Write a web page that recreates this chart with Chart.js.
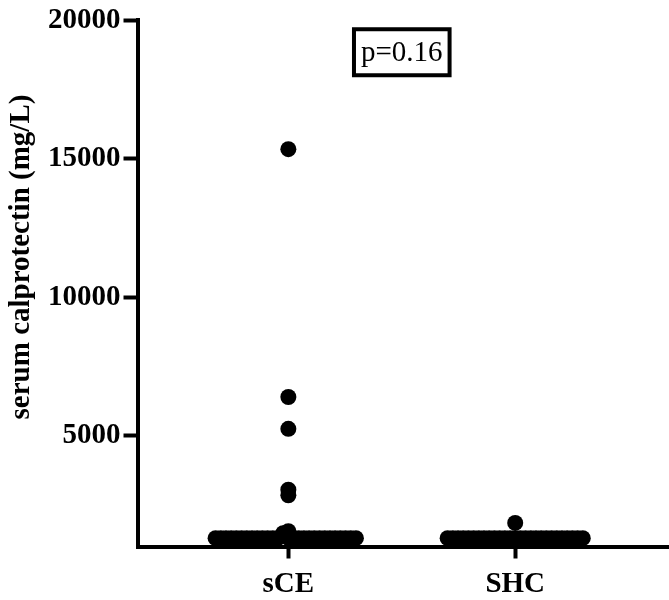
<!DOCTYPE html>
<html>
<head>
<meta charset="utf-8">
<script src="https://cdn.jsdelivr.net/npm/chart.js@4.4.1/dist/chart.umd.min.js"></script>
<style>
  html, body { margin: 0; padding: 0; background: #fff; }
  #wrap { width: 669px; height: 600px; }
</style>
</head>
<body>
<div id="wrap"><canvas id="calChart"></canvas></div>
<script>
const groups = ['sCE', 'SHC'];
const yTicks = [5000, 10000, 15000, 20000];
const pLabel = 'p=0.16';

// serum calprotectin values per subject (mg/L)
const sceValues = [15350, 6400, 5250, 3050, 2850, 1550, 1480,
    1300, 1300, 1300, 1300, 1300, 1300, 1300, 1300, 1300, 1300,
    1300, 1300, 1300, 1300, 1300, 1300, 1300, 1300, 1300, 1300,
    1300, 1300, 1300, 1300, 1300, 1300, 1300];
const shcValues = [1850,
    1300, 1300, 1300, 1300, 1300, 1300, 1300, 1300, 1300, 1300,
    1300, 1300, 1300, 1300, 1300, 1300, 1300, 1300, 1300, 1300,
    1300, 1300, 1300, 1300, 1300, 1300, 1300];

const font = 'Liberation Serif';

// simple bee swarm: spread overlapping dots sideways around the group position
function swarm(values, center) {
    const pxX = 227, pxY = 27.93 / 1000, step = 5.2;
    const placed = [];
    values.slice().sort((a, b) => b - a).forEach(v => {
        for (let k = 0; k < 200; k++) {
            const off = (k % 2 === 0 ? 1 : -1) * Math.ceil(k / 2) * step;
            const clash = placed.some(p =>
                Math.hypot(p.dx - off, (p.y - v) * pxY) < step - 0.01);
            if (!clash) {
                placed.push({dx: off, y: v});
                break;
            }
        }
    });
    return placed.map(p => ({x: center + p.dx / pxX, y: p.y}));
}

const yTitlePlugin = {
    id: 'yTitle',
    afterDraw(chart) {
        const ctx = chart.ctx;
        ctx.save();
        ctx.translate(21.5, 257);
        ctx.rotate(-Math.PI / 2);
        ctx.font = 'bold 29px "' + font + '"';
        ctx.fillStyle = '#000';
        ctx.textAlign = 'center';
        ctx.textBaseline = 'middle';
        ctx.fillText('serum calprotectin (mg/L)', 0, 0);
        ctx.restore();
    }
};

const pBoxPlugin = {
    id: 'pBox',
    afterDraw(chart) {
        const ctx = chart.ctx;
        const cx = chart.scales.x.getPixelForValue(0.5);
        const cy = chart.scales.y.getPixelForValue(18850);
        ctx.save();
        ctx.font = '29px "' + font + '"';
        const w = ctx.measureText(pLabel).width + 14;
        const h = 46;
        ctx.lineWidth = 4;
        ctx.strokeStyle = '#000';
        ctx.strokeRect(cx - w / 2, cy - h / 2, w, h);
        ctx.fillStyle = '#000';
        ctx.textAlign = 'center';
        ctx.textBaseline = 'middle';
        ctx.fillText(pLabel, cx, cy + 1);
        ctx.restore();
    }
};

const ctx = document.getElementById('calChart').getContext('2d');
const calChart = new Chart(ctx, {
    type: 'scatter',
    data: {
        datasets: [{
            label: groups[0],
            data: swarm(sceValues, 0),
            backgroundColor: '#000',
            borderWidth: 0,
            pointRadius: 8,
            pointHoverRadius: 8
        }, {
            label: groups[1],
            data: swarm(shcValues, 1),
            backgroundColor: '#000',
            borderWidth: 0,
            pointRadius: 8,
            pointHoverRadius: 8
        }]
    },
    options: {
        responsive: true,
        maintainAspectRatio: false,
        animation: false,
        clip: false,
        layout: { autoPadding: false, padding: { top: 13, right: 0, left: 0, bottom: 0 } },
        plugins: {
            legend: { display: false },
            tooltip: { enabled: false }
        },
        scales: {
            x: {
                type: 'linear',
                min: -0.665,
                max: 1.678,
                afterBuildTicks: s => { s.ticks = [{value: 0}, {value: 1}]; },
                afterFit: s => { s.height = 53.5; },
                ticks: {
                    callback: v => groups[v],
                    color: '#000',
                    padding: 9,
                    font: { family: font, size: 29, weight: 'bold' }
                },
                grid: {
                    drawOnChartArea: false,
                    drawTicks: true,
                    tickLength: 12,
                    tickWidth: 4,
                    tickColor: '#000'
                },
                border: { display: true, color: '#000', width: 4 }
            },
            y: {
                min: 1000,
                max: 20000,
                afterBuildTicks: s => { s.ticks = yTicks.map(v => ({value: v})); },
                afterFit: s => { s.width = 137.5; },
                ticks: {
                    callback: v => String(v),
                    color: '#000',
                    padding: 3,
                    font: { family: font, size: 29, weight: 'bold' }
                },
                grid: {
                    drawOnChartArea: false,
                    drawTicks: true,
                    tickLength: 14,
                    tickWidth: 4,
                    tickColor: '#000'
                },
                border: { display: true, color: '#000', width: 4 }
            }
        }
    },
    plugins: [yTitlePlugin, pBoxPlugin]
});
</script>
</body>
</html>
